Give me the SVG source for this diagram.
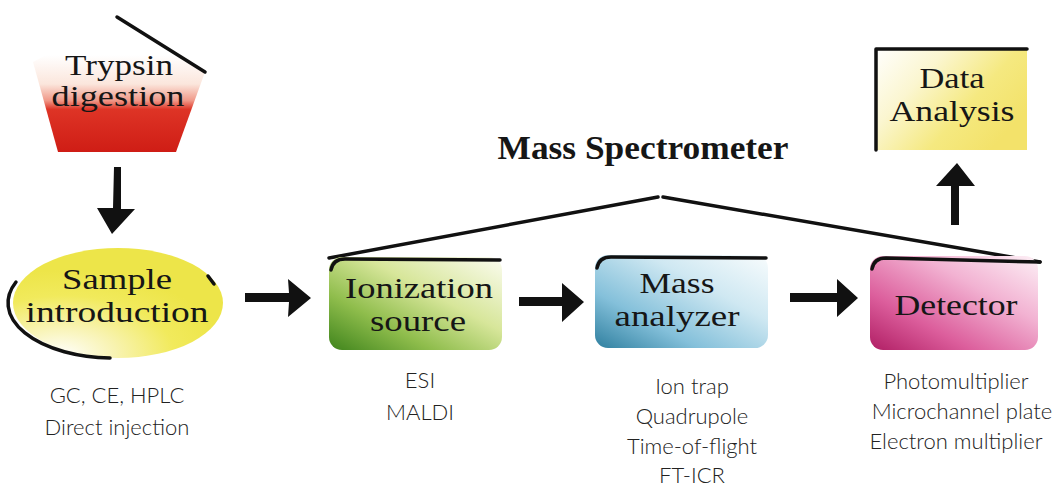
<svg xmlns="http://www.w3.org/2000/svg" width="1060" height="490" viewBox="0 0 1060 490">
<defs>
<style>
.lbl{font-family:"Liberation Serif","DejaVu Serif",serif;font-size:30px;fill:#161616;text-anchor:middle}
.title{font-family:"Liberation Serif","DejaVu Serif",serif;font-size:33px;font-weight:bold;fill:#161616;text-anchor:middle}
.sub{font-family:Lato,"Open Sans","Liberation Sans",sans-serif;font-weight:300;font-size:22px;fill:#222;text-anchor:middle}
.edge{fill:none;stroke:#111;stroke-width:3.5;stroke-linecap:round;stroke-linejoin:round}
.arrow{fill:#111}
</style>
<linearGradient id="gRed" gradientUnits="userSpaceOnUse" x1="0" y1="55" x2="0" y2="152">
<stop offset="0" stop-color="#ffffff"/>
<stop offset="0.3" stop-color="#fbe6dc"/>
<stop offset="0.47" stop-color="#f09888"/>
<stop offset="0.56" stop-color="#de3426"/>
<stop offset="1" stop-color="#cf1d15"/>
</linearGradient>
<radialGradient id="gYel" cx="0.25" cy="0.95" r="0.75" fx="0.22" fy="0.98">
<stop offset="0" stop-color="#ffffff"/>
<stop offset="0.35" stop-color="#f8f3b0"/>
<stop offset="0.7" stop-color="#f1ea5c"/>
<stop offset="1" stop-color="#ede549"/>
</radialGradient>
<linearGradient id="gGreen" x1="0" y1="1" x2="1" y2="0">
<stop offset="0" stop-color="#3f841c"/>
<stop offset="0.3" stop-color="#8fbd4c"/>
<stop offset="0.6" stop-color="#d7e69a"/>
<stop offset="1" stop-color="#fbfcf0"/>
</linearGradient>
<linearGradient id="gBlue" x1="0" y1="1" x2="1" y2="0">
<stop offset="0" stop-color="#2f7f9f"/>
<stop offset="0.3" stop-color="#84c0da"/>
<stop offset="0.65" stop-color="#cfe8f2"/>
<stop offset="1" stop-color="#f8fcfd"/>
</linearGradient>
<linearGradient id="gPink" x1="0" y1="1" x2="1" y2="0">
<stop offset="0" stop-color="#b01e64"/>
<stop offset="0.3" stop-color="#dc5e9c"/>
<stop offset="0.65" stop-color="#f2b2d2"/>
<stop offset="1" stop-color="#fdf0f6"/>
</linearGradient>
<linearGradient id="gData" x1="0" y1="0" x2="1" y2="0.6">
<stop offset="0" stop-color="#ffffff"/>
<stop offset="0.35" stop-color="#fbf6d0"/>
<stop offset="0.7" stop-color="#f5e980"/>
<stop offset="1" stop-color="#f3e26a"/>
</linearGradient>
</defs>
<rect width="1060" height="490" fill="#ffffff"/>

<g id="connectors">
<polygon class="arrow" points="114,167 121,167 121,209 135,209 112,234 97,208 113,208"/>
<polygon class="arrow" points="245,293 289,293 288,279 311,298 288,317 289,302 245,302"/>
<polygon class="arrow" points="519,297 562,297 562,283 584,302 562,322 562,306 519,306"/>
<polygon class="arrow" points="790,293 837,293 837,279 858,298 837,317 837,302 790,302"/>
<polygon class="arrow" points="957,163 975,186 959,186 959,225 951,225 951,186 936,186"/>
<path class="edge" d="M329,258 L658,197"/>
<path class="edge" d="M663,197 L1040,262"/>
</g>

<g id="trypsin">
<polygon points="33,62 117,17 205,72 176,152 58,152" fill="url(#gRed)"/>
<path class="edge" stroke-width="3" d="M117,17 L205,72"/>
<text class="lbl" x="119" y="75" textLength="108" lengthAdjust="spacingAndGlyphs">Trypsin</text>
<text class="lbl" x="118" y="106" textLength="133" lengthAdjust="spacingAndGlyphs">digestion</text>
</g>

<g id="sample">
<ellipse cx="118" cy="303" rx="105" ry="55" fill="url(#gYel)"/>
<path class="edge" stroke-width="2.5" d="M16,282 A105,55 0 0 0 110,358"/>
<path class="edge" stroke-width="2" d="M208,276 L214,284"/>
<text class="lbl" x="117" y="289" textLength="110" lengthAdjust="spacingAndGlyphs">Sample</text>
<text class="lbl" x="117" y="322" textLength="183" lengthAdjust="spacingAndGlyphs">introduction</text>
<text class="sub" x="117" y="403">GC, CE, HPLC</text>
<text class="sub" x="117" y="435">Direct injection</text>
</g>

<g id="ionization">
<rect x="329" y="257" width="173" height="93" rx="13" fill="url(#gGreen)"/>
<path class="edge" stroke-width="4" d="M331,270 Q333,259 345,259 L500,260"/>
<text class="lbl" x="419" y="298" textLength="148" lengthAdjust="spacingAndGlyphs">Ionization</text>
<text class="lbl" x="418" y="331" textLength="96" lengthAdjust="spacingAndGlyphs">source</text>
<text class="sub" x="420" y="388">ESI</text>
<text class="sub" x="420" y="420">MALDI</text>
</g>

<g id="analyzer">
<rect x="595" y="255" width="173" height="93" rx="13" fill="url(#gBlue)"/>
<path class="edge" stroke-width="4" d="M597,268 Q599,257 611,257 L766,258"/>
<text class="lbl" x="677" y="293" textLength="75" lengthAdjust="spacingAndGlyphs">Mass</text>
<text class="lbl" x="677" y="326" textLength="125" lengthAdjust="spacingAndGlyphs">analyzer</text>
<text class="sub" x="692" y="394">Ion trap</text>
<text class="sub" x="692" y="424">Quadrupole</text>
<text class="sub" x="692" y="454">Time-of-flight</text>
<text class="sub" x="692" y="483">FT-ICR</text>
</g>

<g id="detector">
<rect x="870" y="256" width="168" height="94" rx="13" fill="url(#gPink)"/>
<path class="edge" stroke-width="4" d="M872,269 Q874,258 886,258 L1040,262"/>
<text class="lbl" x="956" y="315" textLength="123" lengthAdjust="spacingAndGlyphs">Detector</text>
<text class="sub" x="956" y="389">Photomultiplier</text>
<text class="sub" x="962" y="419">Microchannel plate</text>
<text class="sub" x="956" y="449">Electron multiplier</text>
</g>

<g id="data">
<rect x="875" y="48" width="152" height="102" fill="url(#gData)"/>
<path class="edge" stroke-width="3" stroke-linecap="butt" d="M876,150 L876,49 L1027,49"/>
<text class="lbl" x="952" y="88" textLength="65" lengthAdjust="spacingAndGlyphs">Data</text>
<text class="lbl" x="952" y="121" textLength="125" lengthAdjust="spacingAndGlyphs">Analysis</text>
</g>

<g id="title">
<text class="title" x="643" y="159" textLength="291" lengthAdjust="spacingAndGlyphs">Mass Spectrometer</text>
</g>
</svg>
